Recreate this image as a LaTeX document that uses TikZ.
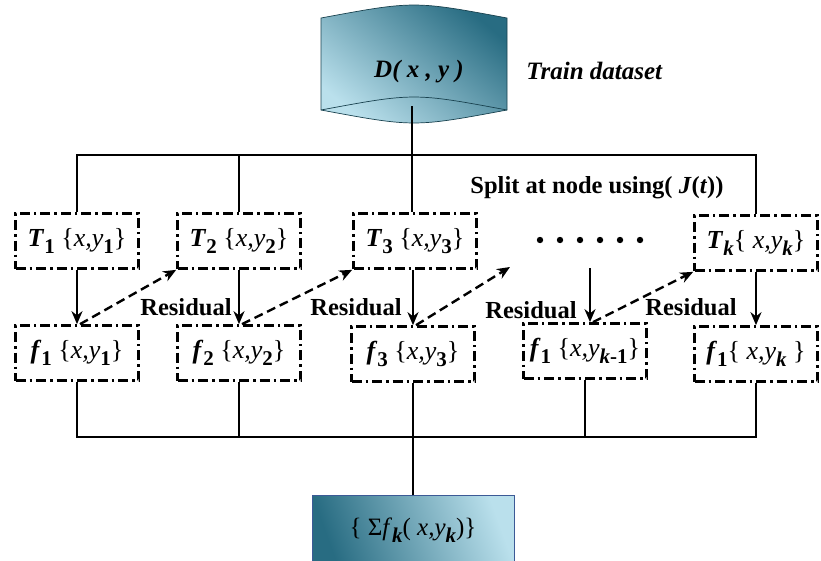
\documentclass[tikz,border=0pt]{standalone}
\usepackage{fontspec}
\setmainfont{Liberation Serif}
\usetikzlibrary{arrows,arrows.meta,calc,positioning}

\definecolor{tealdark}{RGB}{40,108,130}
\definecolor{tealmid}{RGB}{76,168,196}
\definecolor{teallight}{RGB}{186,224,236}
\definecolor{sumline}{RGB}{60,90,150}

\newcommand{\lo}[1]{\raisebox{-0.6ex}{\fontsize{21}{21}\selectfont\bfseries #1}}

\begin{document}
\begin{tikzpicture}[x=1pt, y=-1pt, >={Stealth[length=13pt, width=11pt]}, semithick,
    dashbox/.style={draw, line width=2.7pt, dash pattern=on 10pt off 4pt on 2.5pt off 4pt,
                    minimum width=123pt, minimum height=55pt, inner sep=0pt,
                    font=\fontsize{26}{26}\selectfont},
    label/.style={font=\fontsize{24.5}{24.5}\selectfont\bfseries, inner sep=0pt},
    bus/.style={line width=1.4pt},
    flow/.style={->, line width=2.4pt},
    resid/.style={->, line width=2.4pt, dash pattern=on 9pt off 5pt}]

    \clip (0,0) rectangle (821,560);

    % data drum
    \shade[left color=teallight, middle color=tealmid, right color=tealdark, shading angle=140,
           draw=tealdark!60!black, line width=0.7pt]
        (321,18) .. controls (414,0.7) .. (507,18) -- (507,110)
        .. controls (414,127.3) .. (321,110) -- cycle;
    \draw[tealdark!60!black, line width=0.7pt] (321,110) .. controls (414,92.7) .. (507,110);
    \node[label, font=\fontsize{25}{25}\selectfont\bfseries\itshape] (data) at (419,72) {D( x , y )};
    \node[label, font=\fontsize{25}{25}\selectfont\bfseries\itshape, anchor=west] (train) at (526,71) {Train dataset};
    \coordinate (dbot) at (412,106);

    \node[dashbox] (t1) at (77,241)  {\textbf{\textit{T}}\lo{1} \{\textit{x,y}\lo{1}\}};
    \node[dashbox] (t2) at (239,241) {\textbf{\textit{T}}\lo{2} \{\textit{x,y}\lo{2}\}};
    \node[dashbox] (t3) at (415,241) {\textbf{\textit{T}}\lo{3} \{\textit{x,y}\lo{3}\}};
    \node[dashbox] (tk) at (756,243) {\textbf{\textit{T}}\lo{\textit{k}}\{ \textit{x,y}\lo{\textit{k}}\}};

    \node[dashbox] (f1)  at (77,353)  {\textbf{\textit{f}}\lo{1} \{\textit{x,y}\lo{1}\}};
    \node[dashbox] (f2)  at (239,353) {\textbf{\textit{f}}\lo{2} \{\textit{x,y}\lo{2}\}};
    \node[dashbox] (f3)  at (413,354) {\textbf{\textit{f}}\lo{3} \{\textit{x,y}\lo{3}\}};
    \node[dashbox] (fk1) at (585,351) {\textbf{\textit{f}}\lo{1} \{\textit{x,y}\lo{\textit{k}-1}\}};
    \node[dashbox] (fk)  at (756,354) {\textbf{\textit{f}}\lo{1}\{ \textit{x,y}\lo{\textit{k}} \}};

    \node[label] (split) at (597,188) {Split at node using( \textit{J}(\textit{t}))};

    % dots
    \foreach \i in {0,...,5}
        \fill (540+\i*20,240) circle (3.2pt);
    \coordinate (dotsbot) at (590,268);

    \node[label] (r1) at (186,307) {Residual};
    \node[label] (r2) at (356,307) {Residual};
    \node[label] (r3) at (531,310) {Residual};
    \node[label] (r4) at (691,307) {Residual};

    % summation
    \node[minimum width=202pt, minimum height=70pt, inner sep=0pt, draw=sumline, line width=0.8pt,
          left color=tealdark, middle color=tealmid, right color=teallight, shading angle=110,
          font=\fontsize{25}{25}\selectfont] (sum) at (413,530)
          {\{ Σ\textit{f}\lo{\textit{k}}( \textit{x,y}\lo{\textit{k}})\}};

    % top bus
    \coordinate (tbus) at (412,155);
    \draw[bus] (t1.north) |- (tk.north |- tbus) -- (tk.north);
    \draw[bus] (t2.north) -- (t2.north |- tbus);
    \draw[bus] (dbot) -- (t3.north -| dbot);

    % tree to booster
    \draw[flow] (t1.south) -- (f1.north);
    \draw[flow] (t2.south) -- (f2.north);
    \draw[flow] (t3.south -| f3.north) -- (f3.north);
    \draw[flow] (dotsbot) -- (fk1.north -| dotsbot);
    \draw[flow] (tk.south) -- (tk.south |- fk.north);

    % residuals
    \coordinate (r3end) at (510,267);
    \draw[resid] ($(f1.north)+(3,0)$) -- (t2.south west);
    \draw[resid] ($(f2.north)+(3,0)$) -- (t3.south west);
    \draw[resid] ($(f3.north)+(3,0)$) -- (r3end);
    \draw[resid] ($(fk1.north)+(8,0)$) -- (tk.south west);

    % bottom bus
    \coordinate (bbus) at (412,437);
    \draw[bus] (f1.south) |- (fk.south |- bbus) -- (fk.south);
    \draw[bus] (f2.south) -- (f2.south |- bbus);
    \draw[bus] (f3.south) -- (f3.south |- bbus);
    \draw[bus] (fk1.south) -- (fk1.south |- bbus);
    \draw[bus] (sum.north) -- (sum.north |- bbus);

\end{tikzpicture}
\end{document}
